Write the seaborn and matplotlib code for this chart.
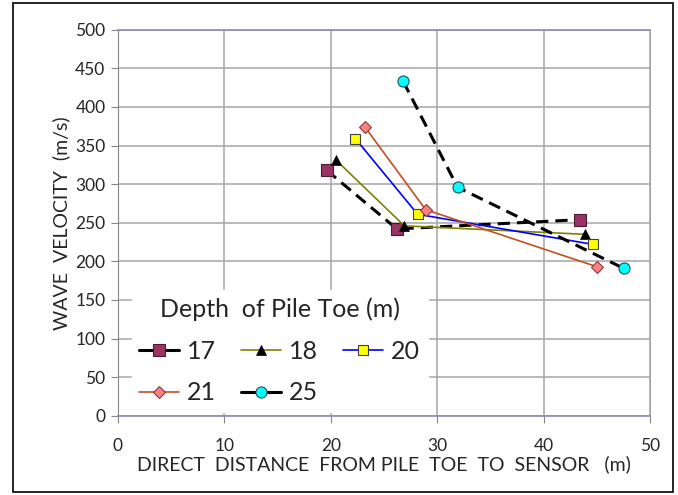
import pandas as pd
import seaborn as sns
import matplotlib.pyplot as plt
from matplotlib.patches import Rectangle

# values
depths = ['17', '18', '20', '21', '25']
dist_17 = [19.6, 26.2, 43.4]
vel_17 = [318, 242, 254]
dist_18 = [20.5, 26.9, 43.9]
vel_18 = [331, 246, 235]
dist_20 = [22.3, 28.15, 44.6]
vel_20 = [359, 261, 222]
dist_21 = [23.2, 28.9, 45.0]
vel_21 = [374, 267, 193]
dist_25 = [26.8, 31.9, 47.5]
vel_25 = [433, 296, 191]
x_ticks = [0, 10, 20, 30, 40, 50]
y_ticks = [0, 50, 100, 150, 200, 250, 300, 350, 400, 450, 500]

dists = [dist_17, dist_18, dist_20, dist_21, dist_25]
vels = [vel_17, vel_18, vel_20, vel_21, vel_25]

# one style per depth
styles = {
    '17': dict(color='black', lw=2.2, linestyle=(0, (4, 2.3)), marker='s', ms=8,
               mfc='#993366', mec='#4a1830', mew=0.8),
    '18': dict(color='#808000', lw=1.2, linestyle='-', marker='^', ms=7.5,
               mfc='black', mec='black', mew=0.5),
    '20': dict(color='#0000FF', lw=1.2, linestyle='-', marker='s', ms=6.5,
               mfc='#FFFF00', mec='#404040', mew=0.8),
    '21': dict(color='#C0501F', lw=1.2, linestyle='-', marker='D', ms=6,
               mfc='#FF8080', mec='#8B3A3A', mew=0.8),
    '25': dict(color='black', lw=2.2, linestyle=(0, (4, 2.3)), marker='o', ms=8,
               mfc='#00FFFF', mec='#1f4f5f', mew=0.8),
}

rows = []
for d, xs, ys in zip(depths, dists, vels):
    for order, (x, y) in enumerate(zip(xs, ys)):
        rows.append({'depth': d, 'order': order, 'dist': x, 'vel': y})
df = pd.DataFrame(rows)

sns.set_style('white')
plt.rcParams['font.family'] = ['Lato', 'DejaVu Sans']

fig = plt.figure(figsize=(6.78, 4.95), dpi=100)
ax = fig.add_axes([0.174, 0.160, 0.785, 0.780])

for d in depths:
    sub = df[df['depth'] == d].sort_values('order')
    sns.lineplot(data=sub, x='dist', y='vel', ax=ax, sort=False, estimator=None,
                 label=d, **styles[d])

ax.set_xlim(0, 50)
ax.set_ylim(0, 500)
ax.set_xticks(x_ticks)
ax.set_yticks(y_ticks)
ax.grid(True, color='#a6a6a6', lw=1.1)
ax.set_axisbelow(True)
ax.tick_params(axis='both', which='major', direction='out', length=5, width=0.8,
               color='#868686', labelsize=12.5, pad=4, left=True, bottom=True)
ax.tick_params(axis='x', pad=11)

for side in ['top', 'bottom']:
    ax.spines[side].set_color('#8a8ab0')
    ax.spines[side].set_linewidth(1.2)
ax.spines['left'].set_color('#868686')
ax.spines['right'].set_color('#a6a6a6')

ax.set_xlabel('DIRECT  DISTANCE  FROM PILE  TOE  TO  SENSOR   (m)', fontsize=14, labelpad=1)
ax.set_ylabel('WAVE  VELOCITY  (m/s)', fontsize=14, labelpad=4)

# Excel fills the legend row by row; matplotlib fills column by column
handles, labels = ax.get_legend_handles_labels()
order = [0, 3, 1, 4, 2]
leg = ax.legend([handles[i] for i in order], [labels[i] for i in order],
                title='Depth  of Pile Toe (m)', ncol=3, loc='lower left',
                bbox_to_anchor=(0.002, -0.022), fontsize=18, title_fontsize=18,
                frameon=True, fancybox=False, framealpha=1, edgecolor='white',
                facecolor='white', handlelength=1.6, handletextpad=0.32,
                columnspacing=1.0, labelspacing=0.75, borderpad=0.3)
for line in leg.get_lines():
    line.set_linestyle('-')

# outer chart border
fig.patches.append(Rectangle((13 / 678, 3 / 495), 660 / 678, 489 / 495,
                             transform=fig.transFigure, fill=False,
                             edgecolor='black', lw=1.2))

plt.savefig('out.png', dpi=100)
plt.close()
